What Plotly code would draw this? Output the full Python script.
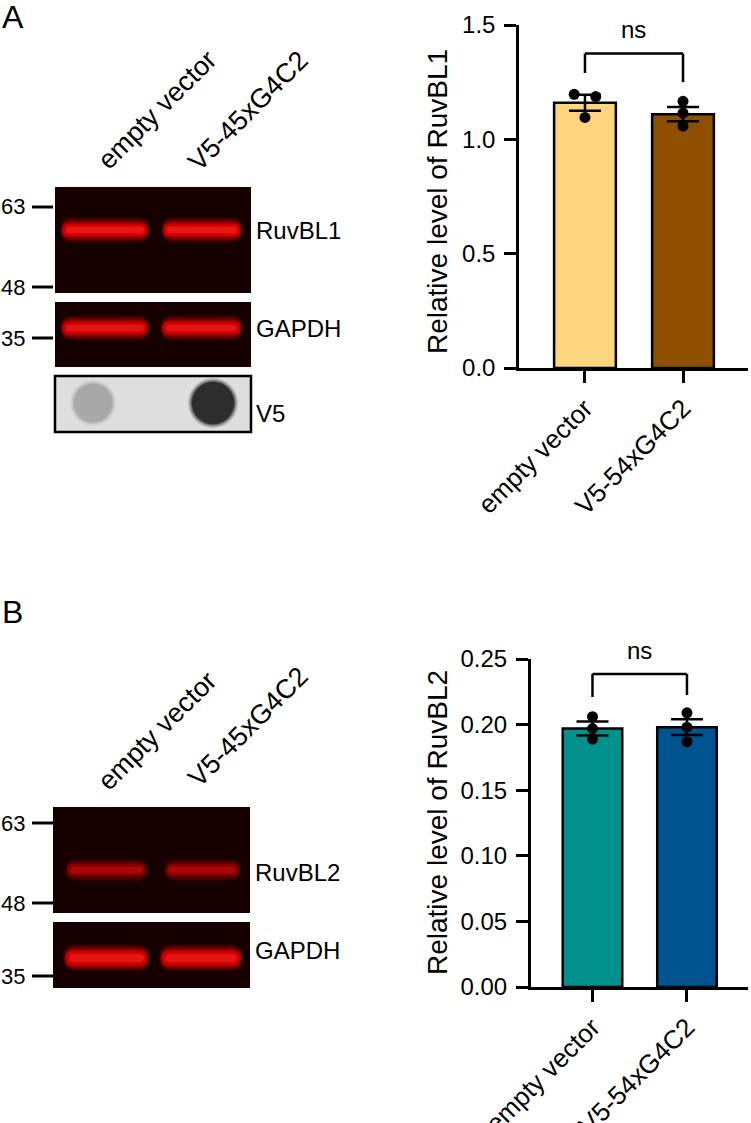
"""RuvBL1 / RuvBL2 western blots with quantification bar charts."""

import plotly.graph_objects as go

W, H = 751, 1123
FONT = "Arial, Liberation Sans, sans-serif"

# --- quantification data -------------------------------------------------
groups = ["empty vector", "V5-54xG4C2"]
lane_labels = ["empty vector", "V5-45xG4C2"]

ruvbl1_mean = [1.16, 1.11]
ruvbl1_sem = [0.035, 0.031]
ruvbl1_points = [[1.197, 1.096, 1.187], [1.166, 1.115, 1.058]]
ruvbl1_jitter = [[-0.11, 0.0, 0.11], [0.0, 0.0, 0.0]]

ruvbl2_mean = [0.197, 0.198]
ruvbl2_sem = [0.0053, 0.006]
ruvbl2_points = [[0.206, 0.197, 0.189], [0.209, 0.198, 0.187]]
ruvbl2_jitter = [[0.0, 0.0, 0.0], [0.0, 0.0, 0.0]]

colors_a = ["#FED57F", "#8E5000"]
colors_b = ["#00918D", "#00548F"]

# significance brackets: (bar y, left leg end, right leg end) in data units
bracket_a = (1.375, 1.29, 1.25)
bracket_b = (0.2386, 0.221, 0.2225)


def px(x):
    return x / W


def py(y):
    return 1 - y / H


fig = go.Figure()
shapes = []
annotations = []


def add_quant(xa, ya, mean, sem, points, jitter, colors):
    xs = list(range(len(mean)))
    fig.add_trace(go.Bar(
        x=xs, y=mean, width=0.63, xaxis=xa, yaxis=ya,
        marker=dict(color=colors, line=dict(color="black", width=2.5)),
        error_y=dict(type="data", array=sem, color="black", thickness=2.5, width=16),
        showlegend=False,
    ))
    for i, pts in enumerate(points):
        fig.add_trace(go.Scatter(
            x=[i + j for j in jitter[i]], y=pts, mode="markers", xaxis=xa, yaxis=ya,
            marker=dict(color="black", size=11), showlegend=False, cliponaxis=False,
        ))


add_quant("x", "y", ruvbl1_mean, ruvbl1_sem, ruvbl1_points, ruvbl1_jitter, colors_a)
add_quant("x2", "y2", ruvbl2_mean, ruvbl2_sem, ruvbl2_points, ruvbl2_jitter, colors_b)


def bracket(xref, yref, b, label_px):
    top, left_end, right_end = b
    line = dict(color="black", width=2.5)
    shapes.append(dict(type="line", xref=xref, yref=yref, x0=0, x1=1, y0=top, y1=top, line=line))
    shapes.append(dict(type="line", xref=xref, yref=yref, x0=0, x1=0, y0=top, y1=left_end, line=line))
    shapes.append(dict(type="line", xref=xref, yref=yref, x0=1, x1=1, y0=top, y1=right_end, line=line))
    annotations.append(dict(xref=xref, yref="paper", x=0.5, y=py(label_px), text="ns",
                            showarrow=False, xanchor="center", yanchor="middle",
                            font=dict(size=24, color="black", family=FONT)))


bracket("x", "y", bracket_a, 29)
bracket("x2", "y2", bracket_b, 650)

axis_common = dict(
    showline=True, linewidth=2.5, linecolor="black", ticks="outside", ticklen=12,
    tickwidth=2.5, tickcolor="black", showgrid=False, zeroline=False, automargin=False,
    tickfont=dict(size=24, color="black", family=FONT),
)
xfont = dict(size=26, color="black", family=FONT)

fig.update_layout(
    xaxis=dict(domain=[px(519), px(748)], range=[-0.673, 1.663], anchor="y",
               tickvals=[0, 1], ticktext=groups, tickangle=-45,
               **{**axis_common, "tickfont": xfont}),
    yaxis=dict(domain=[py(368), py(25)], range=[0, 1.5], anchor="x",
               tickvals=[0, 0.5, 1.0, 1.5], tickformat=".1f", ticklabelstandoff=4, **axis_common),
    xaxis2=dict(domain=[px(530.7), px(748)], range=[-0.654, 1.646], anchor="y2",
                tickvals=[0, 1], ticktext=groups, tickangle=-45,
                **{**axis_common, "tickfont": xfont}),
    yaxis2=dict(domain=[py(987), py(659)], range=[0, 0.25], anchor="x2",
                tickvals=[0, 0.05, 0.1, 0.15, 0.2, 0.25], tickformat=".2f", ticklabelstandoff=4,
                **axis_common),
)

# y axis titles
for yc, txt in [(202, "Relative level of RuvBL1"), (823, "Relative level of RuvBL2")]:
    annotations.append(dict(xref="paper", yref="paper", x=px(437), y=py(yc), text=txt,
                            textangle=-90, showarrow=False, xanchor="center", yanchor="middle",
                            font=dict(size=28, color="black", family=FONT)))

# --- blot panels (drawn as shapes in pixel space) ------------------------


def capsule(x0, y0, x1, y1, fill, opacity):
    # rounded-end band outline, radius = half height
    r = (y1 - y0) / 2
    r = min(r, (x1 - x0) / 2)
    path = (
        f"M {px(x0 + r)},{py(y0)} L {px(x1 - r)},{py(y0)} "
        f"Q {px(x1)},{py(y0)} {px(x1)},{py((y0 + y1) / 2)} "
        f"Q {px(x1)},{py(y1)} {px(x1 - r)},{py(y1)} "
        f"L {px(x0 + r)},{py(y1)} "
        f"Q {px(x0)},{py(y1)} {px(x0)},{py((y0 + y1) / 2)} "
        f"Q {px(x0)},{py(y0)} {px(x0 + r)},{py(y0)} Z"
    )
    shapes.append(dict(type="path", xref="paper", yref="paper", path=path,
                       fillcolor=fill, opacity=opacity, line=dict(width=0), layer="above"))


def rect(x0, y0, x1, y1, fill, line=None, opacity=1.0):
    shapes.append(dict(type="rect", xref="paper", yref="paper",
                       x0=px(x0), x1=px(x1), y0=py(y1), y1=py(y0),
                       fillcolor=fill, opacity=opacity,
                       line=line or dict(width=0), layer="above"))


def band(x0, x1, yc, core, glow, half):
    # soft glowing band: stacked translucent capsules
    for grow, op in [(7, 0.10), (5.5, 0.14), (4, 0.2), (2.5, 0.28), (1, 0.4), (0, 0.55)]:
        capsule(x0 - grow * 0.4, yc - half - grow, x1 + grow * 0.4, yc + half + grow, glow, op)
    capsule(x0 + 3, yc - half * 0.6, x1 - 3, yc + half * 0.6, core, 0.5)


def blot(x0, y0, x1, y1, lanes, yc, core, glow, half):
    rect(x0, y0, x1, y1, "rgb(22,0,0)")
    for lx0, lx1 in lanes:
        band(lx0, lx1, yc, core, glow, half)


def dot(xc, yc, r, color):
    for grow, op in [(4, 0.2), (2.5, 0.35), (1, 0.6), (0, 1.0)]:
        shapes.append(dict(type="circle", xref="paper", yref="paper",
                           x0=px(xc - r - grow), x1=px(xc + r + grow),
                           y0=py(yc + r + grow), y1=py(yc - r - grow),
                           fillcolor=color, opacity=op, line=dict(width=0), layer="above"))


def text(x, y, s, size=24, xanchor="left", angle=0):
    annotations.append(dict(xref="paper", yref="paper", x=px(x), y=py(y), text=s,
                            xanchor=xanchor, yanchor="middle", textangle=angle,
                            showarrow=False, font=dict(size=size, color="black", family=FONT)))


def marker(y, label):
    text(27, y, label, size=22, xanchor="right")
    shapes.append(dict(type="line", xref="paper", yref="paper", x0=px(32), x1=px(53),
                       y0=py(y), y1=py(y), line=dict(color="black", width=3)))


# panel A
text(0, 17, "A", size=32)
text(157, 110, lane_labels[0], size=27, xanchor="center", angle=-45)
text(248, 111, lane_labels[1], size=27, xanchor="center", angle=-45)
blot(55, 187, 251, 293, [(63, 147), (164, 240)], 230, "rgb(255,45,40)", "rgb(235,0,0)", 6)
blot(55, 302, 251, 367, [(63, 147), (163, 240)], 328, "rgb(255,40,35)", "rgb(225,0,0)", 6)
rect(55, 376, 251, 432, "rgb(222,222,222)", line=dict(color="black", width=2.5))
dot(93, 403, 19, "rgb(168,168,168)")
dot(213, 403, 21, "rgb(45,45,45)")
marker(207, "63")
marker(287, "48")
marker(338, "35")
text(254, 230, "RuvBL1")
text(254, 328, "GAPDH")
text(254, 414, "V5")

# panel B
text(0, 612, "B", size=32)
text(157, 731, lane_labels[0], size=27, xanchor="center", angle=-45)
text(248, 727, lane_labels[1], size=27, xanchor="center", angle=-45)
blot(53, 807, 250, 913, [(68, 145), (167, 238)], 870, "rgb(200,15,15)", "rgb(160,0,0)", 5)
blot(53, 922, 250, 988, [(66, 147), (162, 240)], 958, "rgb(255,40,35)", "rgb(230,0,0)", 7)
marker(823, "63")
marker(903, "48")
marker(976, "35")
text(253, 872, "RuvBL2")
text(253, 950, "GAPDH")

fig.update_layout(
    width=W, height=H,
    margin=dict(l=0, r=0, t=0, b=0, autoexpand=False),
    paper_bgcolor="white", plot_bgcolor="white",
    font=dict(family=FONT, color="black"),
    bargap=0.3,
    shapes=shapes,
    annotations=annotations,
)

# drop the browser's default 8px body margin so the figure sits at the page origin
fig.write_html("out.html", config={"displayModeBar": False},
               post_script="document.body.style.margin = '0';")
